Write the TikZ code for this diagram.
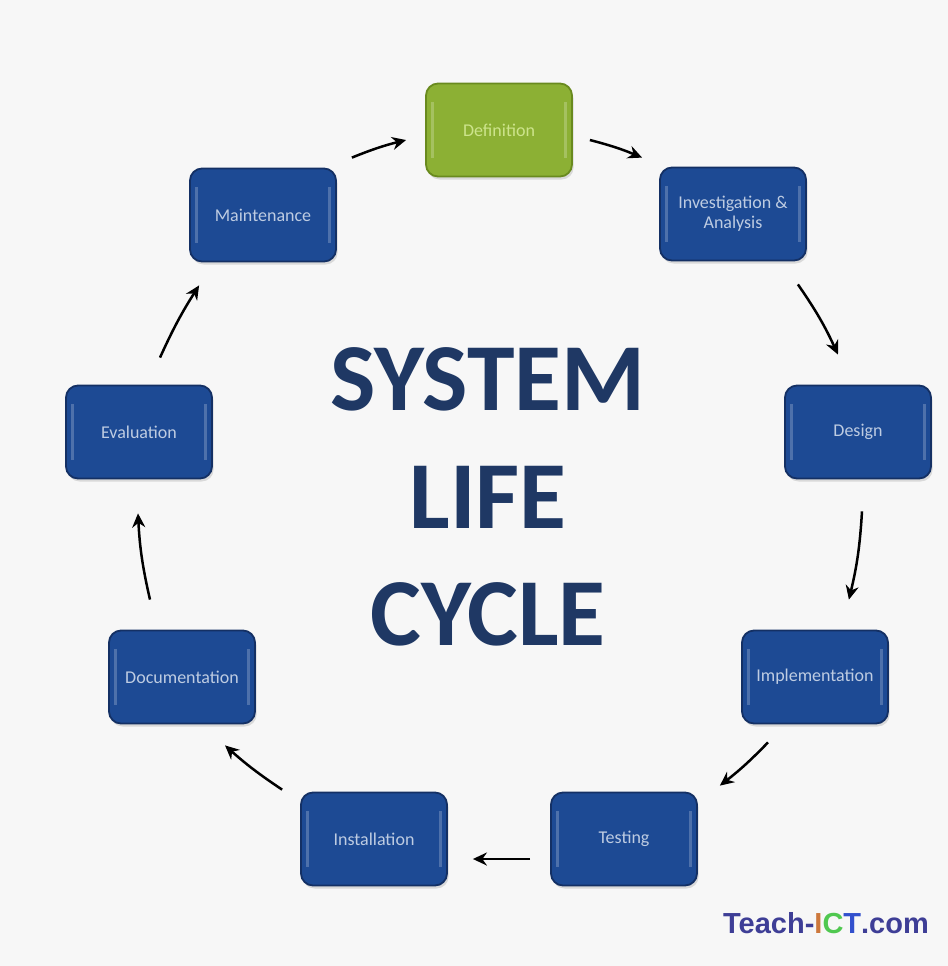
\documentclass[tikz,border=0pt]{standalone}
\usepackage{fontspec}
\setmainfont{Carlito}
\newfontfamily\wmfont{Liberation Sans}
\usetikzlibrary{calc,shadows,arrows.meta}
\definecolor{bg}{RGB}{247,247,247}
\definecolor{boxblue}{RGB}{29,74,148}
\definecolor{boxdark}{RGB}{20,48,100}
\definecolor{boxgreen}{RGB}{140,176,52}
\definecolor{greendark}{RGB}{105,138,30}
\definecolor{boxtext}{RGB}{190,204,226}
\definecolor{greentext}{RGB}{205,228,140}
\definecolor{navy}{RGB}{31,56,100}
\definecolor{wmblue}{RGB}{62,62,150}
\definecolor{wmorange}{RGB}{205,120,60}
\definecolor{wmgreen}{RGB}{80,200,80}
\definecolor{wmT}{RGB}{50,80,205}
\tikzset{
  stage/.style={rectangle, rounded corners=6pt, minimum width=73pt, minimum height=46.5pt,
    fill=boxblue, draw=boxdark, line width=0.9pt, text=boxtext, align=center,
    font=\fontsize{9}{10}\selectfont, inner sep=2pt,
    drop shadow={opacity=0.25, shadow xshift=0.8pt, shadow yshift=-1.5pt},
    path picture={
      \fill[white,opacity=0.22,sharp corners] ($(path picture bounding box.west)+(5,-28)$) rectangle ++(3,56);
      \fill[white,opacity=0.22,sharp corners] ($(path picture bounding box.east)+(-8,-28)$) rectangle ++(3,56);
    }},
  greenstage/.style={stage, fill=boxgreen, draw=greendark, text=greentext},
  arr/.style={-{Stealth[length=7pt,width=6.5pt]}, line width=1.25pt, black},
  title/.style={font=\bfseries\fontsize{48}{50}\selectfont, text=navy, anchor=base, inner sep=0pt}
}
\begin{document}
\begin{tikzpicture}[x=0.5pt,y=-0.5pt]
\fill[bg] (0,0) rectangle (948,966);
\useasboundingbox (0,0) rectangle (948,966);

\node[greenstage] (def) at (499,130) {Definition};
\node[stage] (inv) at (733,214) {Investigation \&\\Analysis};
\node[stage] (des) at (858,432) {Design};
\node[stage] (imp) at (815,677) {Implementation};
\node[stage] (tst) at (624,839) {Testing};
\node[stage] (ins) at (374,839) {Installation};
\node[stage] (doc) at (182,677) {Documentation};
\node[stage] (eva) at (139,432) {Evaluation};
\node[stage] (mnt) at (263,215) {Maintenance};

\node[title] (t1) at (488,410) {SYSTEM};
\node[title] (t2) at (488,528) {LIFE};
\node[title] (t3) at (488,645) {CYCLE};

\draw[arr] ($(mnt.north east)+(15,-10)$) to[bend left=4] ($(def.west)+(-19,10)$);
\draw[arr] ($(def.east)+(17,10)$) to[bend left=4] ($(inv.north west)+(-17,-9)$);
\draw[arr] ($(inv.south east)+(-9,23)$) to[bend left=5] ($(des.north)+(-20,-30)$);
\draw[arr] ($(des.south)+(4,32)$) to[bend left=5] ($(imp.north east)+(-40,-30)$);
\draw[arr] ($(imp.south)+(-47,18)$) to[bend left=4] ($(tst.north east)+(22,-6)$);
\draw[arr] ($(tst.west)+(-20,20)$) to ($(ins.east)+(25,20)$);
\draw[arr] ($(ins.north west)+(-18,-2)$) to[bend left=4] ($(doc.south)+(43,21)$);
\draw[arr] ($(doc.north)+(-32,-30)$) to[bend left=5] ($(eva.south)+(-1,34)$);
\draw[arr] ($(eva.north)+(21,-27)$) to[bend left=4] ($(mnt.south west)+(10,23)$);

\node[font=\wmfont\bfseries\fontsize{14.5}{16}\selectfont, anchor=base, inner sep=0pt] (wm) at (826,933)
  {\textcolor{wmblue}{Teach-}\textcolor{wmorange}{I}\textcolor{wmgreen}{C}\textcolor{wmT}{T}\textcolor{wmblue}{.com}};
\end{tikzpicture}
\end{document}
